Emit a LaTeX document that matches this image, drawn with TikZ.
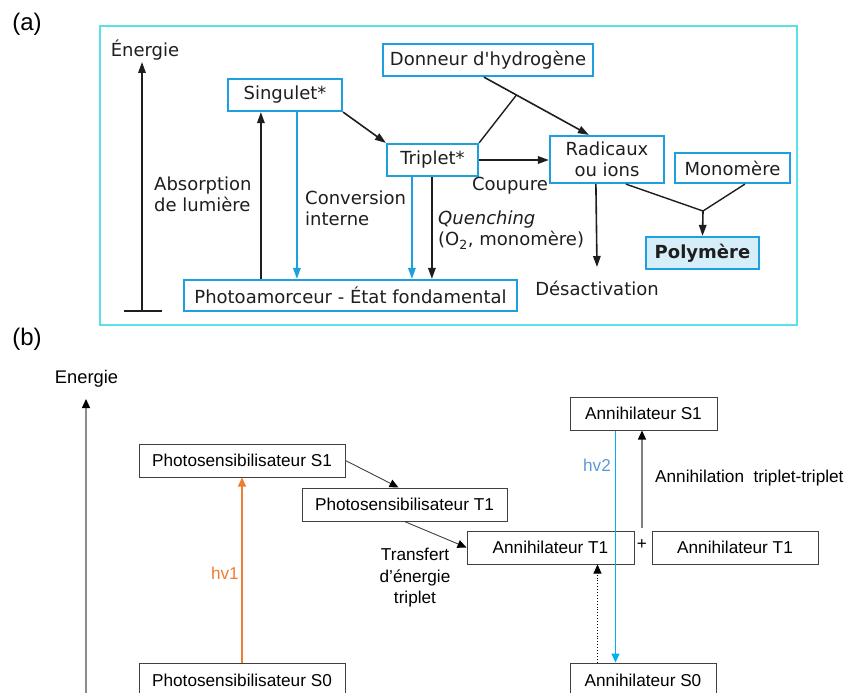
\documentclass[tikz,border=0pt]{standalone}
\usepackage{fontspec}
\setmainfont{Liberation Sans}
\newfontfamily\fontA{DejaVu Sans}
\usetikzlibrary{arrows.meta,calc}
\definecolor{framecyan}{RGB}{90,225,232}
\definecolor{boxblue}{RGB}{28,160,222}
\definecolor{polyfill}{RGB}{214,238,250}
\definecolor{hvorange}{RGB}{237,125,49}
\definecolor{hvblue}{RGB}{0,176,240}
\definecolor{hvtext}{RGB}{91,155,213}
\definecolor{bgray}{RGB}{64,64,64}
\definecolor{ink}{RGB}{30,30,30}
\begin{document}
\begin{tikzpicture}[x=1pt,y=-1pt,
  atext/.style={font=\fontA\fontsize{18}{21}\selectfont, text=ink},
  abox/.style={draw=boxblue, line width=2.2pt, atext, inner sep=0pt},
  aarr/.style={line width=1.6pt, draw=ink, -{Triangle[length=11pt,width=7.5pt]}},
  aline/.style={line width=1.4pt, draw=ink},
  barr/.style={line width=1.6pt, draw=boxblue, -{Triangle[length=11pt,width=7.5pt]}},
  btext/.style={font=\fontsize{17.2}{21.5}\selectfont, text=black},
  bbox/.style={draw=bgray, line width=1pt, btext, inner sep=0pt},
  blabel/.style={font=\fontsize{24}{28}\selectfont}]
\useasboundingbox (0,0) rectangle (847,693);

% ---------------- panel (a) ----------------
\node[blabel] (la) at (27,24) {(a)};
\draw[framecyan, line width=2.4pt] (100,26) rectangle (797,325);

\node[atext] (enA) at (145,50) {Énergie};
\coordinate (enAtop) at (142,62);
\coordinate (enAbot) at (142,311);
\coordinate (barL) at (124,311);
\coordinate (barR) at (162,311);
\draw[aarr] (enAbot) -- (enAtop);
\draw[line width=2.2pt, ink] (barL) -- (barR);

\node[abox, minimum width=114pt, minimum height=32pt] (sing) at (285,95) {Singulet*};
\node[abox, minimum width=91pt, minimum height=32pt] (trip) at (432.5,160) {Triplet*};
\node[abox, minimum width=333pt, minimum height=31pt] (photo) at (350.5,295.5) {Photoamorceur - État fondamental};
\node[abox, minimum width=210pt, minimum height=32pt] (don) at (488,60) {Donneur d'hydrogène};
\node[abox, minimum width=114pt, minimum height=47pt, align=center] (rad) at (607,159.5) {Radicaux\\ou ions};
\node[abox, minimum width=115pt, minimum height=30pt] (mono) at (732.5,168) {Monomère};
\node[abox, fill=polyfill, minimum width=113pt, minimum height=32pt, font=\fontA\bfseries\fontsize{18}{21}\selectfont] (poly) at (702.5,253) {Polymère};

% arrows (a)
\draw[aarr] ([xshift=78pt]photo.north west) -- ([xshift=78pt]photo.north west |- sing.south);
\draw[barr] ([xshift=70pt]sing.south west) -- ([xshift=70pt]sing.south west |- photo.north);
\draw[aarr] (sing.south east) -- (trip.north west);
\draw[barr] ([xshift=26pt]trip.south west) -- ([xshift=26pt]trip.south west |- photo.north);
\draw[aarr] ([xshift=46pt]trip.south west) -- ([xshift=46pt]trip.south west |- photo.north);
\draw[aarr] (trip.east) -- (trip.east -| rad.west);
\coordinate (donout) at ([xshift=102pt]don.south west);
\coordinate (radin) at ([xshift=40pt]rad.north west);
\coordinate (hjoin) at ($(donout)!0.31!(radin)$);
\draw[aarr] (donout) -- (radin);
\draw[aline] (trip.north east) -- (hjoin);
\node[atext, anchor=north, inner sep=0pt, text height=28pt, text depth=2pt] (desact) at (597,267) {Désactivation};
\draw[aarr] ([xshift=47pt]rad.south west) -- (desact.north);
\coordinate (pjoin) at (703,211);
\draw[aline] ([xshift=77pt]rad.south west) -- (pjoin);
\draw[aline] ([xshift=71pt]mono.south west) -- (pjoin);
\draw[aarr] (pjoin) -- (poly.north);

% labels (a)
\node[atext, align=left, anchor=west, inner sep=0pt] (absl) at (154,194) {Absorption\\de lumière};
\node[atext, align=left, anchor=west, inner sep=0pt] (convl) at (305,208) {Conversion\\interne};
\node[atext, align=left, anchor=west, inner sep=0pt] (quenl) at (438,230) {\itshape Quenching\\(O\textsubscript{2}, monomère)};
\node[atext, inner sep=0pt] (coupl) at (510,186) {Coupure};

% ---------------- panel (b) ----------------
\node[blabel] (lb) at (27,339) {(b)};
\node[btext, font=\fontsize{18.3}{22}\selectfont] (enB) at (86.5,379) {Energie};
\coordinate (enBtop) at (86,399);
\coordinate (enBbot) at (86,700);
\draw[gray!90, line width=1.2pt, -{Triangle[length=9pt,width=8pt,fill=black,color=black]}] (enBbot) -- (enBtop);

\node[bbox, minimum width=206pt, minimum height=33pt] (ps1) at (242,460.5) {Photosensibilisateur S1};
\node[bbox, minimum width=205pt, minimum height=33pt] (pt1) at (404.5,504.5) {Photosensibilisateur T1};
\node[bbox, minimum width=206pt, minimum height=34pt] (ps0) at (242,680) {Photosensibilisateur S0};
\node[bbox, minimum width=167pt, minimum height=33pt] (at1l) at (550.5,547.5) {Annihilateur T1};
\node[bbox, minimum width=166pt, minimum height=33pt] (at1r) at (735,547.5) {Annihilateur T1};
\node[bbox, minimum width=147pt, minimum height=33pt] (as1) at (643.5,413.5) {Annihilateur S1};
\node[bbox, minimum width=146pt, minimum height=34pt] (as0) at (643,680) {Annihilateur S0};
\node[btext, inner sep=0pt] (plus) at (642,545) {+};

% arrows (b)
\draw[hvorange, line width=1.1pt, -{Triangle[length=9pt,width=8pt]}] (ps0.north) -- (ps1.south);
\node[btext, text=hvorange, anchor=east, inner sep=0pt] (hv1) at (239,573) {hv1};
\draw[bgray, line width=0.9pt, -{Triangle[length=9pt,width=8pt,fill=black,color=black]}] (ps1.east) -- ([xshift=97pt]pt1.north west);
\draw[bgray, line width=0.9pt, -{Triangle[length=9pt,width=8pt,fill=black,color=black]}] ([xshift=103pt]pt1.south west) -- (at1l.west);
\node[btext, align=center, inner sep=0pt] (transl) at (415,578) {Transfert\\d’énergie\\triplet};
\draw[hvblue, line width=1.1pt, -{Triangle[length=9pt,width=8pt]}] ([xshift=46pt]as1.south west) -- ([xshift=46pt]as1.south west |- as0.north);
\node[btext, text=hvtext, inner sep=0pt] (hv2) at (597,465) {hv2};
\draw[black, line width=0.9pt, dotted, -{Triangle[length=9pt,width=8pt,fill=black]}] ([xshift=28pt]as0.north west) -- ([xshift=28pt]as0.north west |- at1l.south);
\coordinate (ttstart) at (642,528);
\draw[gray, line width=1.1pt, -{Triangle[length=9pt,width=8pt,fill=black,color=black]}] (ttstart) -- (ttstart |- as1.south);
\node[btext, anchor=west, inner sep=0pt] (ttl) at (655,478) {Annihilation\ \ triplet-triplet};
\end{tikzpicture}
\end{document}
